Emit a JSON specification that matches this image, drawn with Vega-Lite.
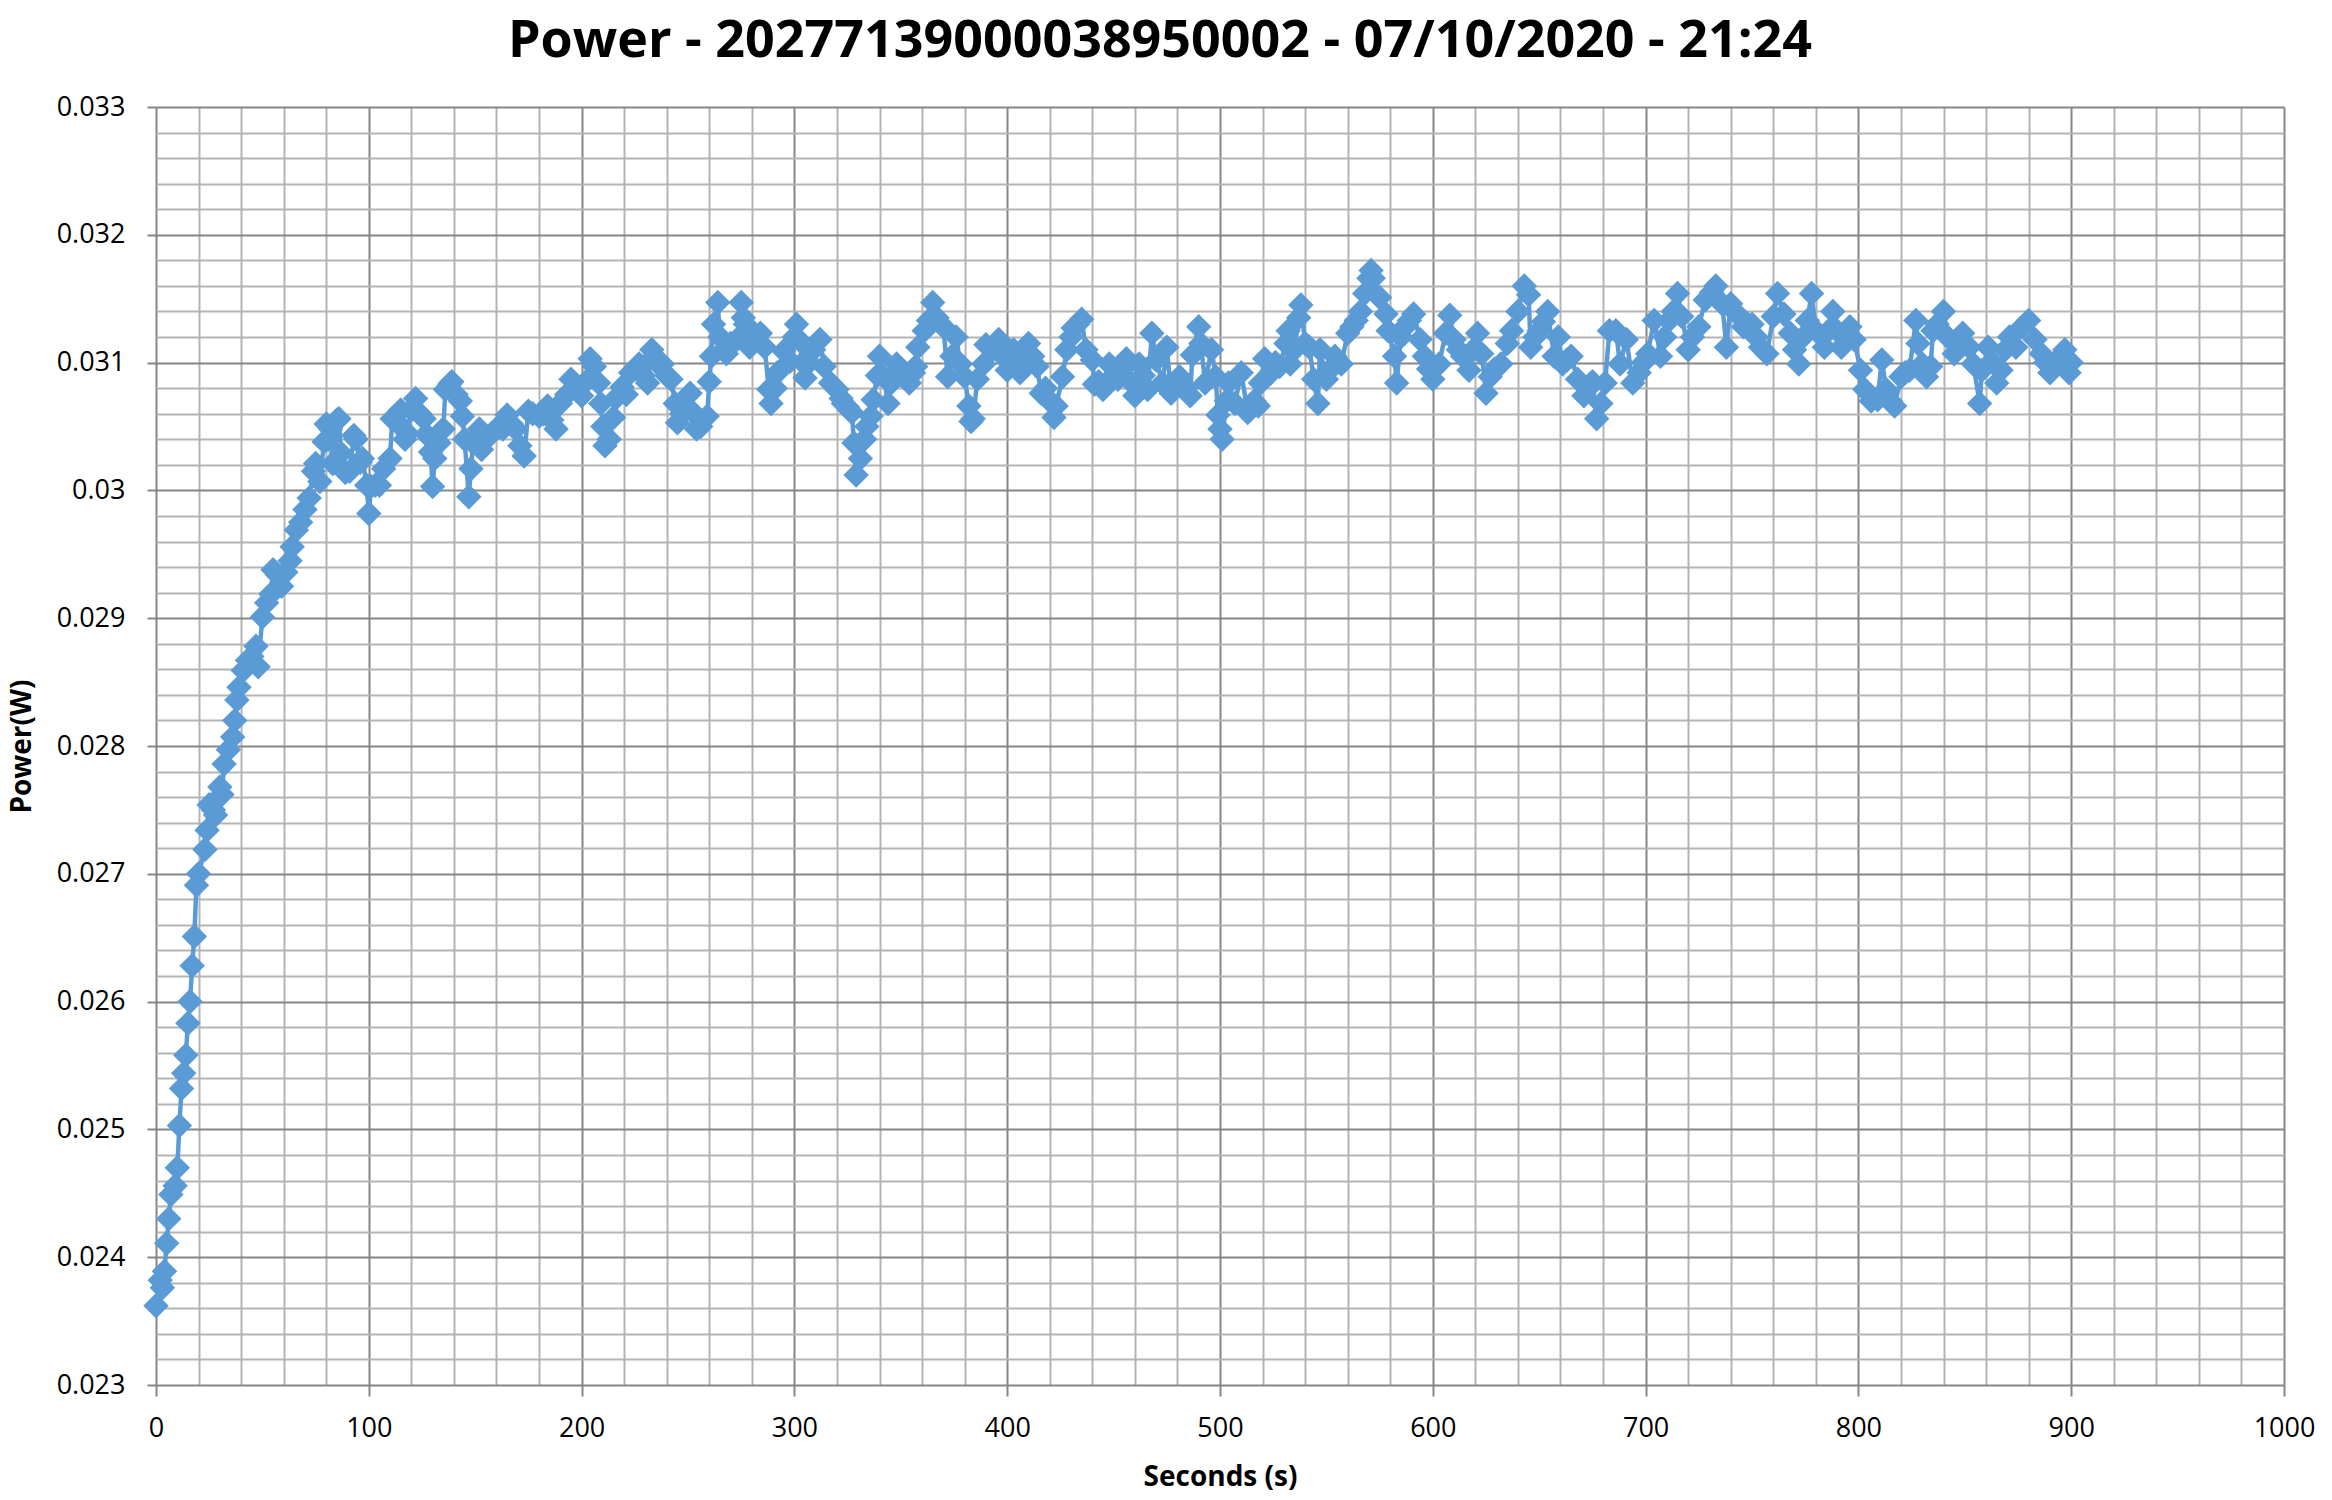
{
  "$schema": "https://vega.github.io/schema/vega-lite/v6.json",
  "width": 2128,
  "height": 1278,
  "autosize": "none",
  "padding": {"left": 156, "top": 107, "right": 48, "bottom": 115},
  "background": "white",
  "config": {"view": {"stroke": null}},
  "title": {
    "text": "Power - 20277139000038950002 - 07/10/2020 - 21:24",
    "font": "Open Sans",
    "fontWeight": "bold",
    "fontSize": 52,
    "color": "#000000",
    "anchor": "middle",
    "dx": -60,
    "offset": 25
  },
  "data": {"values": [
{"s":0,"p":0.02362},{"s":2,"p":0.02382},{"s":3,"p":0.02376},{"s":4,"p":0.02389},{"s":5,"p":0.02411},{"s":6,"p":0.0243},{"s":7,"p":0.02449},{"s":9,"p":0.02456},{"s":10,"p":0.0247},{"s":11,"p":0.02503},{"s":12,"p":0.02532},{"s":13,"p":0.02544},{"s":14,"p":0.02558},{"s":15,"p":0.02583},{"s":16,"p":0.026},{"s":17,"p":0.02628},{"s":18,"p":0.02651},{"s":19,"p":0.02691},{"s":20,"p":0.027},{"s":23,"p":0.02719},{"s":24,"p":0.02734},{"s":25,"p":0.02754},{"s":27,"p":0.0275},{"s":28,"p":0.02746},{"s":30,"p":0.02768},{"s":31,"p":0.02762},{"s":32,"p":0.02786},{"s":34,"p":0.02797},{"s":36,"p":0.02807},{"s":37,"p":0.0282},{"s":38,"p":0.02836},{"s":39,"p":0.02846},{"s":41,"p":0.02859},{"s":43,"p":0.02867},{"s":45,"p":0.0287},{"s":47,"p":0.02878},{"s":48,"p":0.02862},{"s":50,"p":0.02901},{"s":52,"p":0.02912},{"s":54,"p":0.02919},{"s":55,"p":0.02938},{"s":57,"p":0.02934},{"s":59,"p":0.02925},{"s":61,"p":0.02936},{"s":63,"p":0.02945},{"s":64,"p":0.02956},{"s":66,"p":0.02969},{"s":68,"p":0.02975},{"s":70,"p":0.02985},{"s":72,"p":0.02994},{"s":74,"p":0.03015},{"s":75,"p":0.03021},{"s":77,"p":0.03007},{"s":79,"p":0.03038},{"s":80,"p":0.03052},{"s":81,"p":0.0304},{"s":82,"p":0.03048},{"s":83,"p":0.03021},{"s":84,"p":0.03022},{"s":85,"p":0.03055},{"s":86,"p":0.03056},{"s":87,"p":0.03029},{"s":89,"p":0.03014},{"s":91,"p":0.03015},{"s":93,"p":0.03043},{"s":94,"p":0.0304},{"s":96,"p":0.03022},{"s":97,"p":0.03025},{"s":99,"p":0.03004},{"s":100,"p":0.02982},{"s":101,"p":0.03003},{"s":103,"p":0.03004},{"s":105,"p":0.03004},{"s":107,"p":0.03017},{"s":110,"p":0.03025},{"s":111,"p":0.03056},{"s":113,"p":0.03054},{"s":115,"p":0.03063},{"s":117,"p":0.0304},{"s":118,"p":0.03045},{"s":120,"p":0.03063},{"s":122,"p":0.03072},{"s":124,"p":0.0306},{"s":126,"p":0.03056},{"s":127,"p":0.03044},{"s":129,"p":0.0303},{"s":130,"p":0.03003},{"s":131,"p":0.03025},{"s":133,"p":0.03037},{"s":135,"p":0.03048},{"s":136,"p":0.03079},{"s":138,"p":0.03083},{"s":139,"p":0.03085},{"s":141,"p":0.03075},{"s":143,"p":0.0307},{"s":144,"p":0.03058},{"s":145,"p":0.0304},{"s":147,"p":0.02995},{"s":148,"p":0.03017},{"s":149,"p":0.03037},{"s":152,"p":0.03048},{"s":153,"p":0.03032},{"s":155,"p":0.0304},{"s":158,"p":0.03045},{"s":161,"p":0.0305},{"s":163,"p":0.03048},{"s":165,"p":0.03059},{"s":167,"p":0.03052},{"s":169,"p":0.03048},{"s":171,"p":0.03035},{"s":173,"p":0.03027},{"s":175,"p":0.03062},{"s":177,"p":0.0306},{"s":180,"p":0.03058},{"s":182,"p":0.0306},{"s":184,"p":0.03066},{"s":186,"p":0.03055},{"s":188,"p":0.03048},{"s":190,"p":0.03068},{"s":193,"p":0.03075},{"s":195,"p":0.03087},{"s":197,"p":0.0308},{"s":200,"p":0.03074},{"s":202,"p":0.03085},{"s":204,"p":0.03103},{"s":206,"p":0.03097},{"s":208,"p":0.03084},{"s":209,"p":0.03068},{"s":210,"p":0.0305},{"s":211,"p":0.03035},{"s":213,"p":0.0304},{"s":215,"p":0.03057},{"s":216,"p":0.03072},{"s":219,"p":0.03081},{"s":221,"p":0.03075},{"s":223,"p":0.03092},{"s":225,"p":0.03095},{"s":227,"p":0.03099},{"s":229,"p":0.0309},{"s":231,"p":0.03084},{"s":233,"p":0.0311},{"s":234,"p":0.03105},{"s":236,"p":0.03099},{"s":238,"p":0.03099},{"s":240,"p":0.0309},{"s":242,"p":0.03087},{"s":244,"p":0.03068},{"s":245,"p":0.03053},{"s":247,"p":0.0306},{"s":249,"p":0.03065},{"s":251,"p":0.03076},{"s":253,"p":0.0306},{"s":254,"p":0.03048},{"s":256,"p":0.0305},{"s":259,"p":0.03058},{"s":260,"p":0.03085},{"s":261,"p":0.03105},{"s":262,"p":0.0313},{"s":264,"p":0.03147},{"s":265,"p":0.0312},{"s":267,"p":0.0311},{"s":268,"p":0.03107},{"s":270,"p":0.03115},{"s":273,"p":0.03118},{"s":275,"p":0.03147},{"s":276,"p":0.03135},{"s":277,"p":0.0313},{"s":279,"p":0.03112},{"s":281,"p":0.03118},{"s":284,"p":0.03123},{"s":286,"p":0.03112},{"s":288,"p":0.03079},{"s":289,"p":0.03068},{"s":291,"p":0.0308},{"s":292,"p":0.03092},{"s":295,"p":0.03109},{"s":298,"p":0.03101},{"s":300,"p":0.0312},{"s":301,"p":0.0313},{"s":302,"p":0.03118},{"s":304,"p":0.031},{"s":305,"p":0.03088},{"s":307,"p":0.031},{"s":309,"p":0.0311},{"s":312,"p":0.03118},{"s":314,"p":0.03097},{"s":317,"p":0.03084},{"s":320,"p":0.03079},{"s":322,"p":0.03072},{"s":323,"p":0.03068},{"s":325,"p":0.03065},{"s":327,"p":0.03061},{"s":328,"p":0.03037},{"s":329,"p":0.03012},{"s":331,"p":0.03025},{"s":333,"p":0.0304},{"s":334,"p":0.0305},{"s":336,"p":0.03058},{"s":337,"p":0.03071},{"s":339,"p":0.0309},{"s":340,"p":0.03105},{"s":342,"p":0.03089},{"s":344,"p":0.03068},{"s":346,"p":0.03085},{"s":348,"p":0.03099},{"s":350,"p":0.03095},{"s":351,"p":0.03092},{"s":354,"p":0.03084},{"s":356,"p":0.03092},{"s":357,"p":0.03097},{"s":358,"p":0.03112},{"s":361,"p":0.03125},{"s":363,"p":0.03133},{"s":365,"p":0.03147},{"s":367,"p":0.03135},{"s":370,"p":0.03128},{"s":372,"p":0.03089},{"s":374,"p":0.03105},{"s":376,"p":0.0312},{"s":378,"p":0.03099},{"s":380,"p":0.03089},{"s":382,"p":0.03066},{"s":383,"p":0.03054},{"s":384,"p":0.03056},{"s":386,"p":0.03087},{"s":389,"p":0.03099},{"s":390,"p":0.03114},{"s":393,"p":0.0311},{"s":396,"p":0.03118},{"s":398,"p":0.03105},{"s":400,"p":0.03094},{"s":403,"p":0.0311},{"s":406,"p":0.03092},{"s":408,"p":0.031},{"s":410,"p":0.03115},{"s":412,"p":0.03105},{"s":414,"p":0.03097},{"s":416,"p":0.03076},{"s":418,"p":0.0308},{"s":420,"p":0.0307},{"s":422,"p":0.03057},{"s":423,"p":0.03066},{"s":426,"p":0.03089},{"s":428,"p":0.0311},{"s":430,"p":0.0312},{"s":431,"p":0.03127},{"s":433,"p":0.0313},{"s":435,"p":0.03134},{"s":437,"p":0.0311},{"s":440,"p":0.03102},{"s":441,"p":0.03083},{"s":443,"p":0.03085},{"s":445,"p":0.03079},{"s":448,"p":0.03099},{"s":450,"p":0.0309},{"s":452,"p":0.03087},{"s":454,"p":0.03095},{"s":456,"p":0.03103},{"s":458,"p":0.03085},{"s":460,"p":0.03074},{"s":462,"p":0.03099},{"s":464,"p":0.0309},{"s":466,"p":0.03079},{"s":468,"p":0.03123},{"s":470,"p":0.03102},{"s":473,"p":0.03084},{"s":475,"p":0.03112},{"s":477,"p":0.03076},{"s":479,"p":0.03085},{"s":481,"p":0.03089},{"s":484,"p":0.0308},{"s":486,"p":0.03074},{"s":487,"p":0.03106},{"s":490,"p":0.03128},{"s":491,"p":0.03115},{"s":493,"p":0.03084},{"s":496,"p":0.0311},{"s":498,"p":0.03089},{"s":499,"p":0.03059},{"s":500,"p":0.03048},{"s":501,"p":0.0304},{"s":503,"p":0.0307},{"s":504,"p":0.03084},{"s":507,"p":0.03068},{"s":510,"p":0.03092},{"s":513,"p":0.03061},{"s":516,"p":0.0307},{"s":518,"p":0.03066},{"s":519,"p":0.03084},{"s":521,"p":0.03103},{"s":524,"p":0.03092},{"s":526,"p":0.031},{"s":528,"p":0.03097},{"s":531,"p":0.03115},{"s":532,"p":0.03125},{"s":533,"p":0.03099},{"s":535,"p":0.0311},{"s":537,"p":0.03135},{"s":538,"p":0.03145},{"s":540,"p":0.03115},{"s":542,"p":0.03112},{"s":544,"p":0.03087},{"s":546,"p":0.03068},{"s":547,"p":0.0311},{"s":550,"p":0.03087},{"s":552,"p":0.03095},{"s":554,"p":0.03105},{"s":557,"p":0.03099},{"s":560,"p":0.03123},{"s":562,"p":0.03128},{"s":564,"p":0.03133},{"s":566,"p":0.0314},{"s":568,"p":0.03154},{"s":570,"p":0.03166},{"s":571,"p":0.03172},{"s":572,"p":0.03166},{"s":575,"p":0.03151},{"s":578,"p":0.03138},{"s":579,"p":0.03125},{"s":582,"p":0.03105},{"s":583,"p":0.03084},{"s":585,"p":0.0312},{"s":587,"p":0.03128},{"s":589,"p":0.03133},{"s":591,"p":0.03138},{"s":594,"p":0.03118},{"s":596,"p":0.03105},{"s":598,"p":0.03095},{"s":600,"p":0.03087},{"s":603,"p":0.03099},{"s":606,"p":0.03123},{"s":608,"p":0.03137},{"s":610,"p":0.03118},{"s":612,"p":0.0311},{"s":614,"p":0.03105},{"s":617,"p":0.03094},{"s":619,"p":0.0311},{"s":621,"p":0.03123},{"s":623,"p":0.03107},{"s":625,"p":0.03076},{"s":627,"p":0.03089},{"s":629,"p":0.03095},{"s":632,"p":0.03099},{"s":635,"p":0.03115},{"s":637,"p":0.03125},{"s":640,"p":0.0314},{"s":643,"p":0.0316},{"s":645,"p":0.03153},{"s":646,"p":0.03112},{"s":648,"p":0.0312},{"s":650,"p":0.03125},{"s":652,"p":0.03132},{"s":654,"p":0.0314},{"s":657,"p":0.03105},{"s":659,"p":0.0312},{"s":661,"p":0.03099},{"s":663,"p":0.03102},{"s":665,"p":0.03105},{"s":668,"p":0.03087},{"s":671,"p":0.03074},{"s":673,"p":0.0308},{"s":675,"p":0.03085},{"s":677,"p":0.03056},{"s":679,"p":0.03068},{"s":681,"p":0.03084},{"s":683,"p":0.03125},{"s":686,"p":0.03125},{"s":688,"p":0.03099},{"s":691,"p":0.03118},{"s":694,"p":0.03084},{"s":697,"p":0.03092},{"s":699,"p":0.031},{"s":701,"p":0.03107},{"s":704,"p":0.03133},{"s":707,"p":0.03105},{"s":709,"p":0.0312},{"s":711,"p":0.03133},{"s":713,"p":0.0314},{"s":715,"p":0.03154},{"s":717,"p":0.03136},{"s":720,"p":0.0311},{"s":722,"p":0.0312},{"s":725,"p":0.03128},{"s":728,"p":0.03149},{"s":731,"p":0.03155},{"s":733,"p":0.0316},{"s":736,"p":0.03146},{"s":738,"p":0.03112},{"s":740,"p":0.03146},{"s":743,"p":0.03138},{"s":746,"p":0.03128},{"s":748,"p":0.0313},{"s":750,"p":0.0313},{"s":752,"p":0.0312},{"s":754,"p":0.03112},{"s":757,"p":0.03107},{"s":760,"p":0.03136},{"s":762,"p":0.03154},{"s":765,"p":0.03138},{"s":768,"p":0.03123},{"s":770,"p":0.0311},{"s":772,"p":0.03099},{"s":774,"p":0.0312},{"s":776,"p":0.03133},{"s":778,"p":0.03154},{"s":780,"p":0.03125},{"s":784,"p":0.03112},{"s":786,"p":0.03125},{"s":788,"p":0.0314},{"s":790,"p":0.03125},{"s":792,"p":0.03112},{"s":794,"p":0.0312},{"s":796,"p":0.03128},{"s":798,"p":0.03118},{"s":801,"p":0.03094},{"s":803,"p":0.03079},{"s":806,"p":0.0307},{"s":809,"p":0.03071},{"s":811,"p":0.03102},{"s":813,"p":0.03079},{"s":815,"p":0.0307},{"s":817,"p":0.03066},{"s":820,"p":0.03089},{"s":822,"p":0.03092},{"s":824,"p":0.03094},{"s":827,"p":0.03133},{"s":828,"p":0.03115},{"s":830,"p":0.03099},{"s":832,"p":0.03089},{"s":834,"p":0.03097},{"s":835,"p":0.03125},{"s":837,"p":0.0313},{"s":840,"p":0.0314},{"s":842,"p":0.0312},{"s":845,"p":0.03107},{"s":847,"p":0.03115},{"s":849,"p":0.03123},{"s":852,"p":0.03112},{"s":854,"p":0.03099},{"s":857,"p":0.03068},{"s":858,"p":0.03094},{"s":861,"p":0.03112},{"s":863,"p":0.031},{"s":865,"p":0.03084},{"s":867,"p":0.03094},{"s":869,"p":0.0311},{"s":871,"p":0.0312},{"s":874,"p":0.03112},{"s":877,"p":0.03128},{"s":880,"p":0.03133},{"s":883,"p":0.03118},{"s":886,"p":0.03107},{"s":888,"p":0.031},{"s":890,"p":0.03092},{"s":893,"p":0.03099},{"s":895,"p":0.03105},{"s":897,"p":0.0311},{"s":899,"p":0.03092},{"s":900,"p":0.031}
  ]},
  "mark": {
    "type": "line",
    "color": "#5B9BD5",
    "strokeWidth": 4.5,
    "point": {"shape": "diamond", "size": 650, "filled": true, "color": "#5B9BD5", "opacity": 1}
  },
  "encoding": {
    "x": {
      "field": "s",
      "type": "quantitative",
      "scale": {"domain": [0, 1000], "nice": false, "zero": false},
      "axis": {
        "title": "Seconds (s)",
        "titleFont": "Open Sans",
        "titleFontWeight": "bold",
        "titleFontSize": 28,
        "titleColor": "#000000",
        "titleX": 1064,
        "titleY": 92,
        "titleAlign": "center",
        "titleBaseline": "middle",
        "values": [0,20,40,60,80,100,120,140,160,180,200,220,240,260,280,300,320,340,360,380,400,420,440,460,480,500,520,540,560,580,600,620,640,660,680,700,720,740,760,780,800,820,840,860,880,900,920,940,960,980,1000],
        "labelExpr": "datum.value % 100 === 0 ? datum.label : ''",
        "format": "d",
        "labelFont": "Open Sans",
        "labelFontSize": 27,
        "labelColor": "#000000",
        "labelPadding": 19,
        "labelFlush": false,
        "labelOverlap": false,
        "domain": false,
        "ticks": true,
        "tickSize": 11,
        "tickWidth": 2,
        "tickColor": {"condition": {"test": "datum.value % 100 === 0", "value": "#868686"}, "value": "rgba(0,0,0,0)"},
        "grid": true,
        "gridWidth": 2,
        "gridColor": {"condition": {"test": "datum.value % 100 === 0", "value": "#868686"}, "value": "#b4b4b4"},
        "gridOpacity": 1
      }
    },
    "y": {
      "field": "p",
      "type": "quantitative",
      "scale": {"domain": [0.023, 0.033], "nice": false, "zero": false},
      "axis": {
        "title": "Power(W)",
        "titleFont": "Open Sans",
        "titleFontWeight": "bold",
        "titleFontSize": 28,
        "titleColor": "#000000",
        "titleX": -134,
        "titleY": 639,
        "titleAngle": -90,
        "titleAlign": "center",
        "titleBaseline": "middle",
        "values": [0.023,0.0232,0.0234,0.0236,0.0238,0.024,0.0242,0.0244,0.0246,0.0248,0.025,0.0252,0.0254,0.0256,0.0258,0.026,0.0262,0.0264,0.0266,0.0268,0.027,0.0272,0.0274,0.0276,0.0278,0.028,0.0282,0.0284,0.0286,0.0288,0.029,0.0292,0.0294,0.0296,0.0298,0.03,0.0302,0.0304,0.0306,0.0308,0.031,0.0312,0.0314,0.0316,0.0318,0.032,0.0322,0.0324,0.0326,0.0328,0.033],
        "labelExpr": "round(datum.value * 10000) % 10 === 0 ? format(datum.value, '~g') : ''",
        "labelFont": "Open Sans",
        "labelFontSize": 27,
        "labelColor": "#000000",
        "labelPadding": 22,
        "labelFlush": false,
        "labelOverlap": false,
        "domain": false,
        "ticks": true,
        "tickSize": 9,
        "tickWidth": 2,
        "tickColor": {"condition": {"test": "round(datum.value * 10000) % 10 === 0", "value": "#868686"}, "value": "rgba(0,0,0,0)"},
        "grid": true,
        "gridWidth": 2,
        "gridColor": {"condition": {"test": "round(datum.value * 10000) % 10 === 0", "value": "#868686"}, "value": "#b4b4b4"},
        "gridOpacity": 1
      }
    }
  }
}
